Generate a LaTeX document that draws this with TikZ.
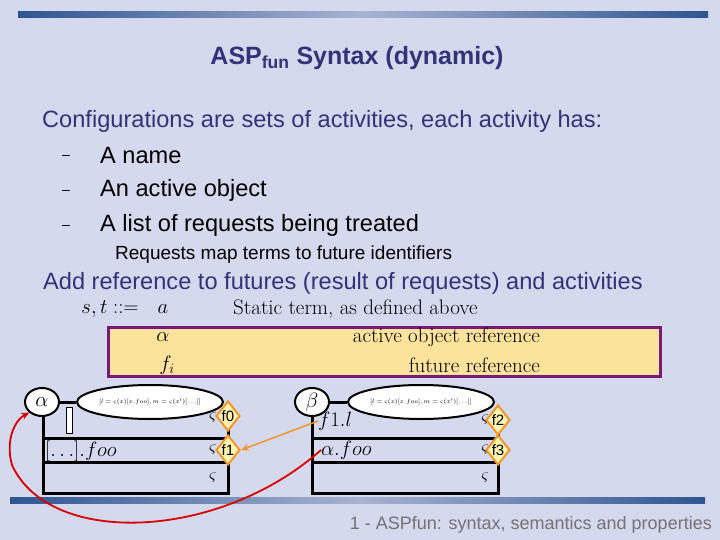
\documentclass[tikz,border=0pt]{standalone}
\usepackage{fontspec}
\setsansfont{Liberation Sans}
\renewcommand\familydefault{\sfdefault}
\usetikzlibrary{shapes.geometric,arrows.meta}
\definecolor{bg}{HTML}{D5D9EE}
\definecolor{navy}{HTML}{33337A}
\definecolor{bard}{HTML}{2F5590}
\definecolor{barl}{HTML}{A9B3D2}
\definecolor{ylw}{HTML}{FBE39C}
\definecolor{purp}{HTML}{7A1A78}
\definecolor{orng}{HTML}{F0962A}
\definecolor{dfill}{HTML}{FFF3B0}
\tikzset{
  txt/.style={anchor=west,inner sep=0pt,font=\fontsize{23.6}{25}\selectfont},
  mth/.style={inner sep=0pt,font=\fontsize{21}{24}\selectfont\rmfamily},
  circ/.style={draw,line width=2pt,fill=white,ellipse,minimum width=34pt,minimum height=28pt,inner sep=0pt,font=\fontsize{20}{20}\selectfont},
  obj/.style={draw,line width=2pt,fill=white,ellipse,minimum width=146pt,minimum height=34pt,inner sep=0pt,font=\fontsize{6.5}{7}\selectfont\rmfamily},
  fut/.style={draw=orng,line width=2pt,fill=dfill,diamond,minimum width=24pt,minimum height=30pt,inner sep=0pt,font=\fontsize{15}{15}\selectfont},
  boxl/.style={line width=3pt},
  zeta/.style={inner sep=0pt,font=\fontsize{16}{16}\selectfont\rmfamily},
}
\begin{document}
\begin{tikzpicture}[x=1pt,y=-1pt]
\fill[bg] (0,0) rectangle (720,540);
\useasboundingbox (0,0) rectangle (720,540);
\shade[left color=bard,right color=barl] (18,12) rectangle (363,18);
\shade[left color=barl,right color=bard] (363,12) rectangle (708,18);
\shade[left color=bard,right color=barl] (10,497) rectangle (360,503);
\shade[left color=barl,right color=bard] (360,497) rectangle (705,503);
\node[text=navy,font=\bfseries\fontsize{25}{27}\selectfont] (title) at (357,58) {ASP\textsubscript{fun} Syntax (dynamic)};
\node[txt,text=navy] (conf) at (42,121) {Configurations are sets of activities, each activity has:};
\node[txt,font=\fontsize{14}{14}\selectfont] (d1) at (62,157) {--};
\node[txt] (it1) at (100,155) {A name};
\node[txt,font=\fontsize{14}{14}\selectfont] (d2) at (62,192) {--};
\node[txt] (it2) at (100,190) {An active object};
\node[txt,font=\fontsize{14}{14}\selectfont] (d3) at (62,227) {--};
\node[txt] (it3) at (100,225) {A list of requests being treated};
\node[txt,font=\fontsize{19}{20}\selectfont] (req) at (115,255) {Requests map terms to future identifiers};
\node[txt,text=navy] (add) at (43,283) {Add reference to futures (result of requests) and activities};
\node[mth] (st) at (110,309) {$s,t ::=$};
\node[mth] (a) at (163,309) {$a$};
\node[mth,anchor=west] (stat) at (233,309) {Static term, as defined above};
\node[draw=purp,line width=3pt,fill=ylw,minimum width=552pt,minimum height=49pt,inner sep=0pt] (yb) at (384,351.5) {};
\node[mth] (al) at (163,337) {$\alpha$};
\node[mth,anchor=east] (aor) at (540,337) {active object reference};
\node[mth] (fi) at (167,365) {$f_i$};
\node[mth,anchor=east] (fr) at (540,365) {future reference};
\draw[boxl] (43,402) -- (43,493) -- (228,493) -- (228,410);
\draw[boxl] (43,438) -- (228,438);
\draw[boxl] (43,462) -- (228,462);
\node[circ] (ca) at (42,402) {$\alpha$};
\node[obj] (oa) at (150,402) {$[l=\varsigma(x)[x.foo],m=\varsigma(x')[\ldots]]$};
\draw[boxl] (ca) -- (oa);
\draw[line width=1pt,fill=white] (66,407) rectangle (72,433);
\node[mth,anchor=west] (foo) at (45,451) {$[\ldots].foo$};
\node[zeta] (z1) at (213,418) {$\varsigma$};
\node[zeta] (z2) at (213,450) {$\varsigma$};
\node[zeta] (z3) at (213,478) {$\varsigma$};
\node[fut] (f0) at (228,416) {f0};
\node[fut] (f1) at (228,450) {f1};
\draw[boxl] (312,402) -- (312,493) -- (498,493) -- (498,410);
\draw[boxl] (312,438) -- (498,438);
\draw[boxl] (312,462) -- (498,462);
\node[circ] (cb) at (312,402) {$\beta$};
\node[obj] (ob) at (421,402) {$[l=\varsigma(x)[x.foo],m=\varsigma(x')[\ldots]]$};
\draw[boxl] (cb) -- (ob);
\node[mth,anchor=west] (fl) at (318,421) {$f1.l$};
\node[mth,anchor=west] (af) at (321,450) {$\alpha.foo$};
\node[zeta] (y1) at (485,420) {$\varsigma$};
\node[zeta] (y2) at (485,450) {$\varsigma$};
\node[zeta] (y3) at (485,478) {$\varsigma$};
\node[fut] (f2) at (498,420) {f2};
\node[fut] (f3) at (498,450) {f3};
\draw[orng,line width=1.5pt,-{Stealth[length=8pt,width=7pt]}] (fl.west) -- (f1.east);
\draw[red!85!black,line width=1.8pt,-{Stealth[length=8pt,width=7pt]}] (af.west) .. controls (220,540) and (50,548) .. (12,465) .. controls (5,440) and (15,420) .. (ca.south west);
\node[anchor=east,inner sep=0pt,text=black!55,font=\fontsize{18}{18}\selectfont] (foot) at (712,525) {1 - ASPfun: syntax, semantics and properties};
\end{tikzpicture}
\end{document}
